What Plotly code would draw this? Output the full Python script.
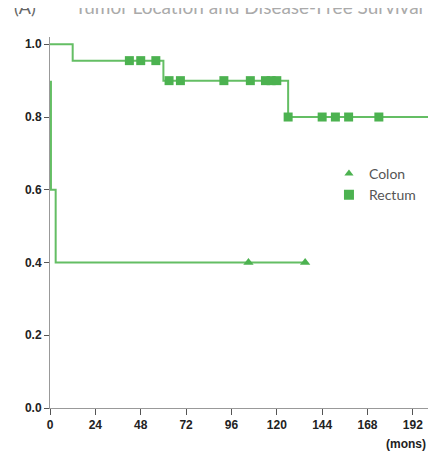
import plotly.graph_objects as go

# Kaplan-Meier step data (months, survival probability)
rectum_time = [0, 12, 60, 126, 200]
rectum_surv = [1.0, 0.955, 0.90, 0.80, 0.80]
rectum_censor = [42, 48, 56, 63, 69, 92, 106, 114, 117, 120, 126, 144, 151, 158, 174]

colon_time = [0.5, 3, 135]
colon_surv = [0.9, 0.6, 0.4]
colon_start_low = 0.6
colon_censor = [105, 135]

x_ticks = [0, 24, 48, 72, 96, 120, 144, 168, 192]
y_ticks = [0.0, 0.2, 0.4, 0.6, 0.8, 1.0]
y_tick_labels = ["0.0", "0.2", "0.4", "0.6", "0.8", "1.0"]

GREEN = "rgb(76,178,80)"
LINE_GREEN = "rgb(100,190,100)"


def surv_at(times, survs, t):
    s = survs[0]
    for ti, si in zip(times, survs):
        if t >= ti:
            s = si
    return s


fig = go.Figure()

# Rectum curve
fig.add_trace(go.Scatter(x=rectum_time, y=rectum_surv, mode="lines", line_shape="hv",
                         line=dict(color=LINE_GREEN, width=2), showlegend=False, hoverinfo="skip"))
fig.add_trace(go.Scatter(x=rectum_censor, y=[surv_at(rectum_time, rectum_surv, t) for t in rectum_censor],
                         mode="markers", marker=dict(symbol="square", size=9, color=GREEN),
                         showlegend=False))

# Colon curve
cx = [colon_time[0], colon_time[0], colon_time[1], colon_time[1], colon_time[2]]
cy = [colon_surv[0], colon_start_low, colon_surv[1], colon_surv[2], colon_surv[2]]
fig.add_trace(go.Scatter(x=cx, y=cy, mode="lines",
                         line=dict(color=LINE_GREEN, width=2), showlegend=False, hoverinfo="skip"))
fig.add_trace(go.Scatter(x=colon_censor, y=[colon_surv[-1]] * len(colon_censor),
                         mode="markers", marker=dict(symbol="triangle-up", size=9, color=GREEN),
                         showlegend=False))

# Legend entries
fig.add_trace(go.Scatter(x=[None], y=[None], mode="markers", name="Colon",
                         marker=dict(symbol="triangle-up", size=8, color=GREEN)))
fig.add_trace(go.Scatter(x=[None], y=[None], mode="markers", name="Rectum",
                         marker=dict(symbol="square", size=10, color=GREEN)))

axis_font = dict(family="Liberation Sans", size=12, color="#222")

fig.update_layout(
    width=429, height=444,
    margin=dict(l=42, r=9, t=29, b=44),
    paper_bgcolor="white", plot_bgcolor="white",
    showlegend=True,
    legend=dict(x=0.738, y=0.674, xanchor="left", yanchor="top",
                font=dict(family="Lato", size=14, color="#555"),
                bgcolor="rgba(0,0,0,0)", tracegroupgap=0, itemwidth=30),
    xaxis=dict(range=[0, 200], tickvals=x_ticks, ticktext=[f"<b>{t}</b>" for t in x_ticks],
               showgrid=False, zeroline=False, showline=True, linecolor="#999", linewidth=1,
               ticks="outside", ticklen=6, tickcolor="#555", tickfont=axis_font),
    yaxis=dict(range=[0, 1.02], tickvals=y_ticks, ticktext=[f"<b>{t}</b>" for t in y_tick_labels],
               showgrid=False, zeroline=False, showline=True, linecolor="#999", linewidth=1,
               ticks="outside", ticklen=5, tickcolor="#555", tickfont=axis_font),
    annotations=[
        dict(text="<b>(mons)</b>", xref="paper", yref="paper", x=1.0, y=-0.097,
             xanchor="right", yanchor="middle", showarrow=False,
             font=dict(family="Liberation Sans", size=12, color="#222")),
        dict(text="(A)", xref="paper", yref="paper", x=-0.1, y=1.081,
             xanchor="left", yanchor="middle", showarrow=False,
             font=dict(family="Lato", size=18, color="#666")),
        dict(text="Tumor Location and Disease-Free Survival", xref="paper", yref="paper",
             x=0.06, y=1.081, xanchor="left", yanchor="middle", showarrow=False,
             font=dict(family="Lato", size=19, color="#aaa")),
    ],
)

fig.write_html("out.html")
